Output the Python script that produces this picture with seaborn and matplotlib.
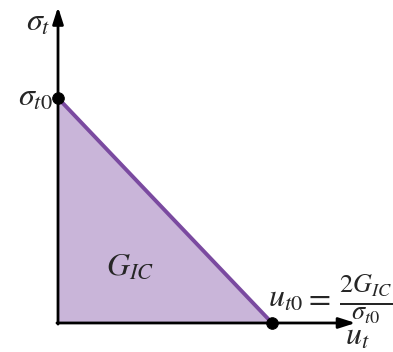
import matplotlib
matplotlib.use("Agg")
import matplotlib.pyplot as plt
import seaborn as sns
import pandas as pd

sns.set_style("white")
plt.rcParams["mathtext.fontset"] = "stix"
plt.rcParams["font.family"] = ["STIXGeneral", "DejaVu Serif"]

# Linear softening law: traction vs. separation
separation = [0.0, 1.0]
traction = [1.0, 0.0]
fill_color = "#c9b5d9"
line_color = "#7a4aa0"

df = pd.DataFrame({"u": separation, "sigma": traction})

fig = plt.figure(figsize=(3.93, 3.52), dpi=100)
ax = fig.add_axes([0, 0, 1, 1])
ax.set_xlim(-0.271, 1.565)
ax.set_ylim(-0.129, 1.436)
ax.axis("off")

ax.fill_between(df["u"], df["sigma"], 0, color=fill_color, lw=0)
sns.lineplot(data=df, x="u", y="sigma", color=line_color, lw=2.8, ax=ax)

# Coordinate axes with arrow heads
arrow = dict(arrowstyle="-|>,head_length=1.0,head_width=0.32", color="black", lw=2,
             shrinkA=0, shrinkB=0)
ax.annotate("", xy=(1.39, 0), xytext=(-0.005, 0), arrowprops=arrow)
ax.annotate("", xy=(0, 1.405), xytext=(0, -0.005), arrowprops=arrow)

sns.scatterplot(x=[0, 1], y=[1, 0], color="black", s=70, zorder=5, ax=ax,
                edgecolor="black", legend=False)

fs = 23
ax.text(-0.037, 1.335, r"$\sigma_t$", fontsize=fs, ha="right", va="center")
ax.text(-0.025, 1.0, r"$\sigma_{t0}$", fontsize=fs, ha="right", va="center")
ax.text(0.336, 0.25, r"$G_{IC}$", fontsize=fs, ha="center", va="center")
ax.text(0.98, 0.105, r"$u_{t0}$", fontsize=fs, ha="left", va="center")
ax.text(1.21, 0.105, r"$=$", fontsize=fs, ha="center", va="center")
ax.text(1.437, 0.11, r"$\frac{2G_{IC}}{\sigma_{t0}}$", fontsize=27,
        ha="center", va="center")
ax.text(1.40, -0.062, r"$u_t$", fontsize=fs, ha="center", va="center")

fig.savefig("out.png", dpi=100)
